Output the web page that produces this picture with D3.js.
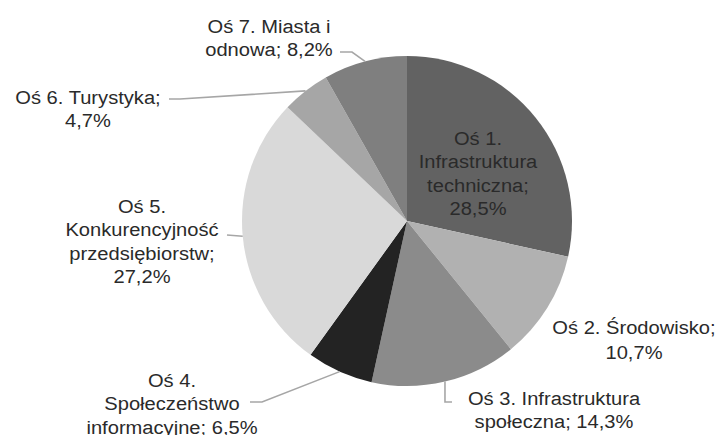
<!DOCTYPE html>
<html>
<head>
<meta charset="utf-8">
<script src="https://cdn.jsdelivr.net/npm/d3@7"></script>
<style>
  html, body { margin: 0; padding: 0; background: #fff; }
  svg { display: block; }
</style>
</head>
<body>
<div id="chart"></div>
<script>
// ---- data ----
const categories = [
  "Oś 1. Infrastruktura techniczna",
  "Oś 2. Środowisko",
  "Oś 3. Infrastruktura społeczna",
  "Oś 4. Społeczeństwo informacyjne",
  "Oś 5. Konkurencyjność przedsiębiorstw",
  "Oś 6. Turystyka",
  "Oś 7. Miasta i odnowa"
];
const values = [28.5, 10.7, 14.3, 6.5, 27.2, 4.7, 8.2];
const valueLabels = ["28,5%", "10,7%", "14,3%", "6,5%", "27,2%", "4,7%", "8,2%"];
const labelLines = [
  ["Oś 1.", "Infrastruktura", "techniczna;", "28,5%"],
  ["Oś 2. Środowisko;", "10,7%"],
  ["Oś 3. Infrastruktura", "społeczna; 14,3%"],
  ["Oś 4.", "Społeczeństwo", "informacyjne; 6,5%"],
  ["Oś 5.", "Konkurencyjność", "przedsiębiorstw;", "27,2%"],
  ["Oś 6. Turystyka;", "4,7%"],
  ["Oś 7. Miasta i", "odnowa; 8,2%"]
];

// ---- styling / layout ----
const colors = ["#626262", "#b1b1b1", "#8b8b8b", "#232323", "#d9d9d9", "#a6a6a6", "#7f7f7f"];
const W = 723, H = 435;
const cx = 407, cy = 221, R = 165;
const lineH = 23.5;
const labelLayout = [
  { x: 478, y: 138, leader: null },
  { x: 634, y: 327, leader: null, lh: 25 },
  { x: 554, y: 398, leader: [[0, 402], [452, 402]], vertical: true },
  { x: 172, y: 380, leader: [[262, 402], [250, 402]] },
  { x: 142, y: 206, leader: [[227, 235]] },
  { x: 88, y: 97, leader: [[180, 99], [169, 99]] },
  { x: 269, y: 26, leader: [[352, 52], [340, 52]] }
];

const svg = d3.select("#chart").append("svg")
  .attr("width", W).attr("height", H)
  .style("font-family", "'Liberation Sans', Arial, sans-serif");

const pie = d3.pie().sort(null).value(d => d)(values);
const arc = d3.arc().innerRadius(0).outerRadius(R);

const g = svg.append("g").attr("transform", `translate(${cx},${cy})`);
g.selectAll("path.slice").data(pie).enter().append("path")
  .attr("class", "slice")
  .attr("d", arc)
  .attr("fill", (d, i) => colors[i]);

// leader lines
pie.forEach((d, i) => {
  const L = labelLayout[i];
  if (!L.leader) return;
  const mid = (d.startAngle + d.endAngle) / 2;
  const p0 = [cx + R * Math.sin(mid), cy - R * Math.cos(mid)];
  const pts = [p0].concat(L.leader.map(p => (L.vertical && p[0] === 0) ? [p0[0], p[1]] : p));
  svg.append("path")
    .attr("d", d3.line()(pts))
    .attr("fill", "none")
    .attr("stroke", "#a6a6a6")
    .attr("stroke-width", 1.6);
});

// labels
labelLines.forEach((lines, i) => {
  const L = labelLayout[i];
  const lh = L.lh || lineH;
  const t = svg.append("text")
    .attr("text-anchor", "middle")
    .attr("font-size", 19)
    .attr("fill", "#2a2a2a")
    .attr("transform", `translate(${L.x},0) scale(1.06,1)`);
  lines.forEach((s, k) => {
    t.append("tspan")
      .attr("x", 0)
      .attr("y", L.y + k * lh)
      .attr("dy", "0.36em")
      .text(s);
  });
});
</script>
</body>
</html>
